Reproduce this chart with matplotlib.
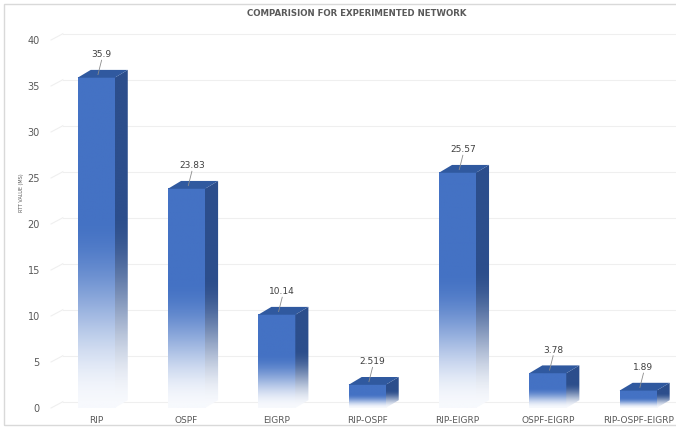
import numpy as np
import matplotlib.pyplot as plt
from matplotlib.patches import Polygon, Rectangle
from matplotlib.colors import LinearSegmentedColormap

# RTT per routing protocol setup
protocols = ['RIP', 'OSPF', 'EIGRP', 'RIP-OSPF', 'RIP-EIGRP', 'OSPF-EIGRP', 'RIP-OSPF-EIGRP']
rtt_values = [35.9, 23.83, 10.14, 2.519, 25.57, 3.78, 1.89]
value_labels = ['35.9', '23.83', '10.14', '2.519', '25.57', '3.78', '1.89']
y_ticks = [0, 5, 10, 15, 20, 25, 30, 35, 40]

FRONT = '#4472C4'
SIDE = '#2C4E8C'
TOP = '#30599F'
GRID = '#EFEFEF'
TEXT = '#595959'

fig = plt.figure(figsize=(6.76, 4.29), dpi=100)
ax = fig.add_axes([51 / 676, 21 / 429, 625 / 676, 368 / 429])
ax.set_xlim(-0.5, 6.42)
ax.set_ylim(0, 40)
for s in ax.spines.values():
    s.set_visible(False)

# chart frame
fig.patches.append(Rectangle((4 / 676, 4 / 429), 1.2, 421 / 429, transform=fig.transFigure,
                             fill=False, edgecolor='#D9D9D9', lw=1.0))

w = 0.41           # front face width
dx, dy = 0.145, 0.85   # 3d depth offset

# back-wall gridlines with short floor diagonals
for v in y_ticks:
    ax.plot([-0.5, -0.5 + dx * 0.9], [v, v + dy * 0.8], color=GRID, lw=0.8, clip_on=False, zorder=0)
    ax.plot([-0.5 + dx * 0.9, 6.42], [v + dy * 0.8, v + dy * 0.8], color=GRID, lw=0.8,
            clip_on=False, zorder=0)


def fade_map(base):
    return LinearSegmentedColormap.from_list('f', ['#F7F9FD', base])


# vertical gradient: lower half fades to white
t = np.clip(np.linspace(0, 1, 256) / 0.58, 0, 1)
grad = (t * t * (3 - 2 * t))[:, None]

for i, (h, lab) in enumerate(zip(rtt_values, value_labels)):
    x0, x1 = i - w / 2, i + w / 2
    # front face
    ax.imshow(grad, cmap=fade_map(FRONT), origin='lower', aspect='auto',
              extent=[x0, x1, 0, h], zorder=3, interpolation='bilinear')
    # side face
    side = Polygon([(x1, 0), (x1 + dx, dy), (x1 + dx, h + dy), (x1, h)], closed=True,
                   facecolor='none', edgecolor='none')
    ax.add_patch(side)
    im = ax.imshow(grad, cmap=fade_map(SIDE), origin='lower', aspect='auto',
                   extent=[x1, x1 + dx, 0, h + dy], zorder=3, interpolation='bilinear')
    im.set_clip_path(side)
    # top face
    ax.add_patch(Polygon([(x0, h), (x1, h), (x1 + dx, h + dy), (x0 + dx, h + dy)], closed=True,
                         facecolor=TOP, edgecolor='none', zorder=4, clip_on=False))
    # value label with leader line
    ty = h + 2.0
    ax.plot([i + 0.02, i + 0.06], [h + dy * 0.4, ty - 0.1], color='#8C8C8C', lw=0.6,
            zorder=5, clip_on=False)
    ax.text(i + 0.06, ty, lab, ha='center', va='bottom', fontsize=6.5, color='#404040',
            zorder=6, clip_on=False)

ax.set_xticks(range(len(protocols)))
ax.set_xticklabels(protocols, fontsize=6.5, color=TEXT)
ax.set_yticks(y_ticks)
ax.set_yticklabels([str(t) for t in y_ticks], fontsize=7, color=TEXT)
ax.tick_params(length=0, pad=6)
ax.tick_params(axis='y', pad=8)

fig.text(22 / 676, 0.55, 'RTT VALUE (MS)', rotation=90, fontsize=3.5, color=TEXT,
         ha='center', va='center')
fig.text(357 / 676, 1 - 14 / 429, 'COMPARISION FOR EXPERIMENTED NETWORK', fontsize=6.2,
         fontweight='bold', color=TEXT, ha='center', va='center')

fig.savefig('out.png', dpi=100)
